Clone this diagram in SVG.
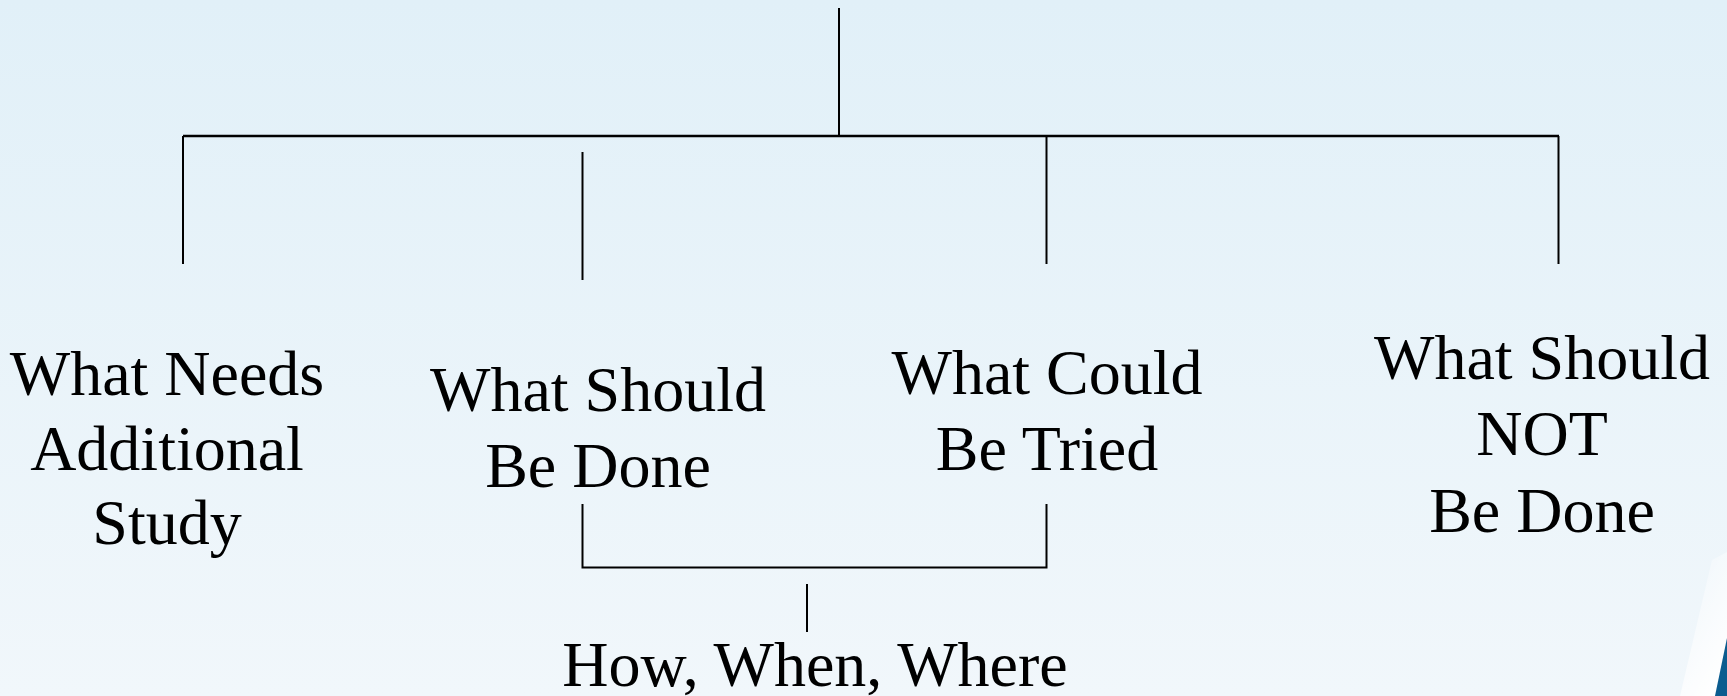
<svg xmlns="http://www.w3.org/2000/svg" width="1727" height="696" viewBox="0 0 1727 696">
<defs>
<linearGradient id="bg" x1="0" y1="0" x2="0" y2="1">
<stop offset="0" stop-color="#e1f0f8"/>
<stop offset="1" stop-color="#f1f7fb"/>
</linearGradient>
<linearGradient id="sw" x1="0" y1="0" x2="0.6" y2="1">
<stop offset="0" stop-color="#ffffff" stop-opacity="0"/>
<stop offset="1" stop-color="#ffffff" stop-opacity="0.95"/>
</linearGradient>
</defs>
<style>
.ln{stroke:#000;stroke-width:2;fill:none}
.hz{stroke:#000;stroke-width:2.6;fill:none}
.t{font-family:"Liberation Serif","Times New Roman",serif;font-size:64px;fill:#000;text-anchor:middle}
</style>
<rect width="1727" height="696" fill="url(#bg)"/>
<path d="M1680,696 L1712,560 L1727,552 L1727,640 L1715,696 Z" fill="url(#sw)"/>
<path d="M1727,638 L1715,696 L1727,696 Z" fill="#0b5c8f"/>
<g id="connectors">
<line class="ln" x1="839" y1="8" x2="839" y2="136"/>
<line class="hz" x1="183" y1="136" x2="1559" y2="136"/>
<line class="ln" x1="183" y1="136" x2="183" y2="264"/>
<line class="ln" x1="582.5" y1="152" x2="582.5" y2="280"/>
<line class="ln" x1="1046.5" y1="136" x2="1046.5" y2="264"/>
<line class="ln" x1="1558.5" y1="136" x2="1558.5" y2="264"/>
<polyline class="ln" points="582.5,504 582.5,567.5 1046.5,567.5 1046.5,504"/>
<line class="ln" x1="807" y1="584" x2="807" y2="632"/>
</g>
<g id="node-needs-study">
<text class="t" x="167" y="395">What Needs</text>
<text class="t" x="167" y="470">Additional</text>
<text class="t" x="167" y="544">Study</text>
</g>
<g id="node-should-done">
<text class="t" x="598" y="410.5">What Should</text>
<text class="t" x="598" y="486.5">Be Done</text>
</g>
<g id="node-could-tried">
<text class="t" x="1047" y="394">What Could</text>
<text class="t" x="1047" y="469.5">Be Tried</text>
</g>
<g id="node-should-not">
<text class="t" x="1542" y="378.5">What Should</text>
<text class="t" x="1542" y="455">NOT</text>
<text class="t" x="1542" y="531.5">Be Done</text>
</g>
<g id="node-how">
<text class="t" x="815" y="686">How, When, Where</text>
</g>
</svg>
